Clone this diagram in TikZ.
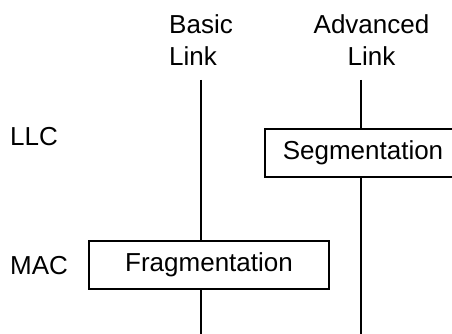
\documentclass[tikz,border=0pt]{standalone}
\usepackage{fontspec}
\setmainfont{Liberation Sans}
\usepackage{tikz}
\usetikzlibrary{positioning}

\begin{document}
\begin{tikzpicture}[
    x=1pt, y=-1pt,
    font=\fontsize{26}{32}\selectfont,
    label/.style={inner sep=0pt},
    block/.style={draw, line width=1.3pt, inner sep=0pt, minimum height=48pt},
    link/.style={line width=1.3pt}
  ]
    \clip (0,0) rectangle (452,334);

    % layer names
    \node[label, anchor=base west] (llc) at (10,146) {LLC};
    \node[label, anchor=base west] (mac) at (10,274) {MAC};

    % link heads
    \node[label, anchor=north west, align=left] (basic) at (169,14.5) {Basic\\Link};
    \node[label, anchor=north, align=center] (advanced) at (371.5,14.5) {Advanced\\Link};

    \coordinate (basictop) at (201,80);
    \coordinate (basicbot) at (201,334);
    \coordinate (advtop) at (361,80);
    \coordinate (advbot) at (361,334);

    % functions
    \node[block, minimum width=240pt] (frag) at (209,265) {Fragmentation};
    \node[block, minimum width=196pt] (seg) at (363,153) {Segmentation};

    \draw[link] (basictop) -- (basictop |- frag.north);
    \draw[link] (basicbot |- frag.south) -- (basicbot);
    \draw[link] (advtop) -- (advtop |- seg.north);
    \draw[link] (advbot |- seg.south) -- (advbot);
  \end{tikzpicture}
\end{document}
